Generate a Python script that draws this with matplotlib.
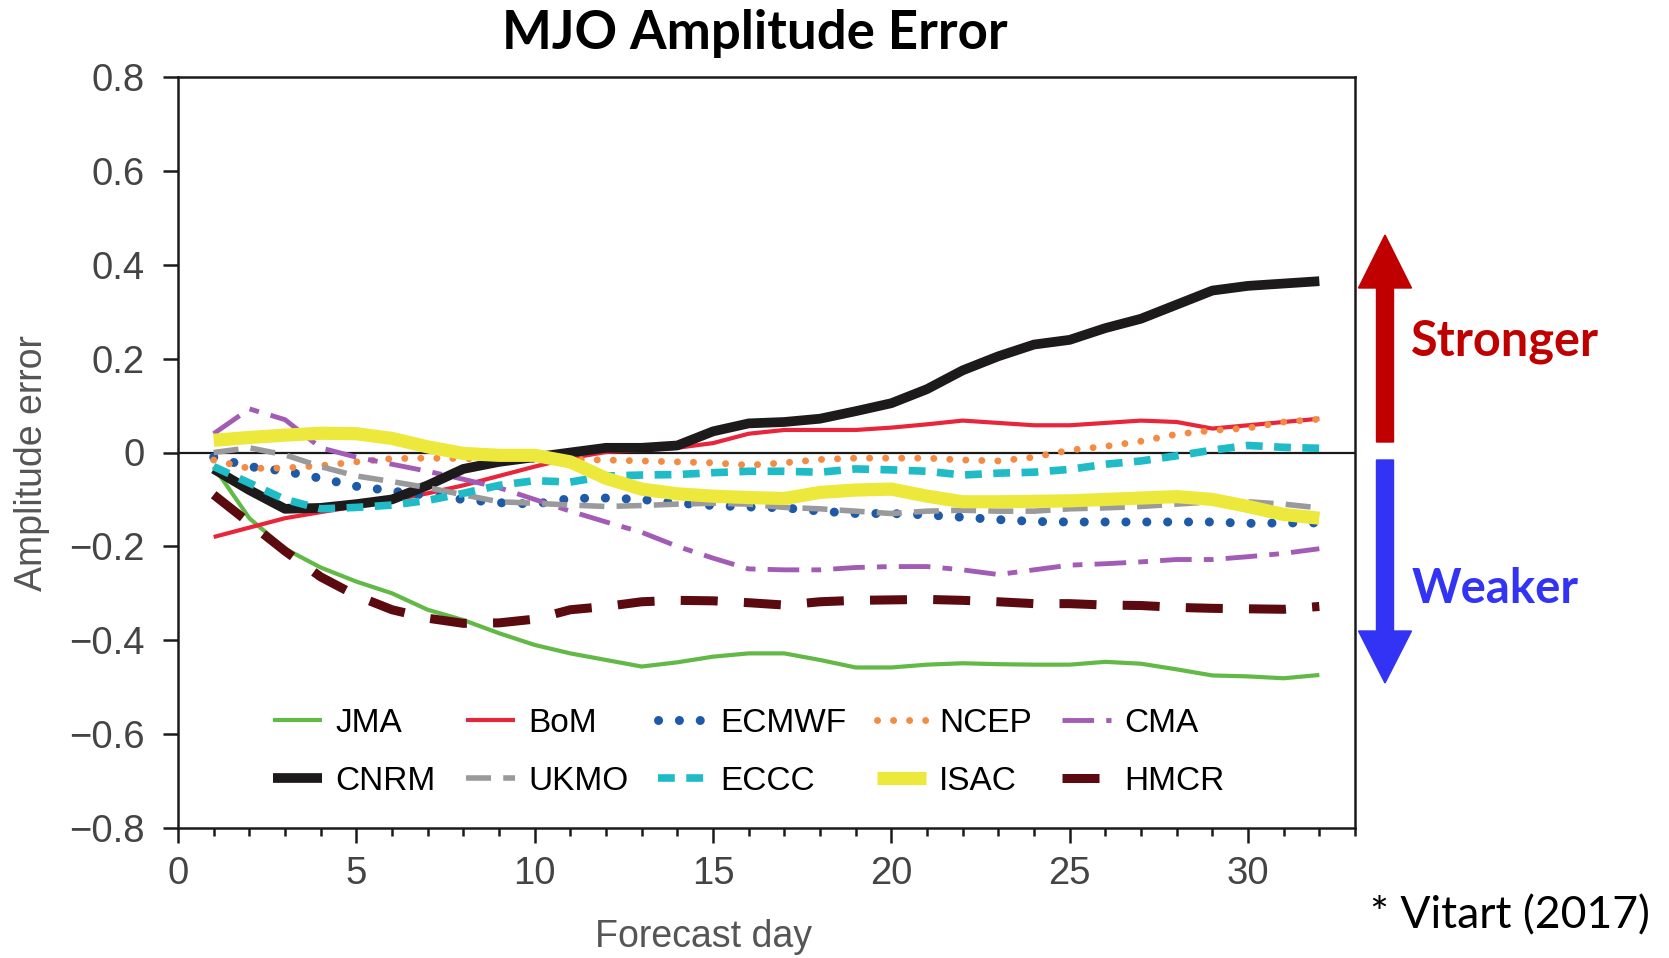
import matplotlib.pyplot as plt
from matplotlib.patches import FancyArrow
from matplotlib.transforms import Affine2D
from matplotlib.ticker import FuncFormatter, MultipleLocator

# DATA ##########################################
days = list(range(1, 33))

jma = [-0.03, -0.14, -0.205, -0.245, -0.275, -0.3, -0.335, -0.357, -0.385, -0.41, -0.428, -0.442, -0.456, -0.447, -0.435, -0.428,
       -0.428, -0.442, -0.458, -0.458, -0.452, -0.449, -0.451, -0.452, -0.452, -0.446, -0.45, -0.462, -0.475, -0.477, -0.481, -0.474]
bom = [-0.18, -0.16, -0.14, -0.127, -0.115, -0.102, -0.087, -0.07, -0.05, -0.03, -0.012, 0.001, 0.005, 0.01, 0.02, 0.04,
       0.048, 0.048, 0.048, 0.053, 0.06, 0.068, 0.063, 0.058, 0.058, 0.063, 0.068, 0.065, 0.051, 0.058, 0.065, 0.072]
ecmwf = [-0.01, -0.03, -0.04, -0.055, -0.072, -0.082, -0.092, -0.1, -0.107, -0.11, -0.098, -0.097, -0.1, -0.108, -0.113, -0.116,
         -0.118, -0.125, -0.13, -0.13, -0.133, -0.138, -0.143, -0.147, -0.148, -0.148, -0.148, -0.148, -0.148, -0.151, -0.15, -0.15]
ncep = [-0.016, -0.034, -0.033, -0.028, -0.02, -0.013, -0.012, -0.013, -0.015, -0.015, -0.015, -0.016, -0.018, -0.02, -0.022, -0.027,
        -0.022, -0.015, -0.012, -0.012, -0.012, -0.016, -0.018, -0.01, 0.005, 0.013, 0.024, 0.039, 0.047, 0.052, 0.065, 0.071]
cma = [0.04, 0.093, 0.07, 0.01, -0.01, -0.025, -0.04, -0.057, -0.075, -0.1, -0.125, -0.148, -0.17, -0.2, -0.225, -0.248,
       -0.25, -0.25, -0.245, -0.243, -0.243, -0.25, -0.26, -0.25, -0.24, -0.237, -0.233, -0.228, -0.228, -0.222, -0.215, -0.205]
cnrm = [-0.035, -0.08, -0.12, -0.118, -0.11, -0.1, -0.07, -0.035, -0.02, -0.01, 0.0, 0.01, 0.01, 0.015, 0.045, 0.062,
        0.065, 0.072, 0.088, 0.105, 0.135, 0.175, 0.205, 0.23, 0.24, 0.265, 0.285, 0.315, 0.345, 0.355, 0.36, 0.365]
ukmo = [0.0, 0.01, -0.005, -0.03, -0.05, -0.062, -0.075, -0.09, -0.105, -0.108, -0.112, -0.115, -0.113, -0.11, -0.108, -0.11,
        -0.117, -0.12, -0.125, -0.13, -0.125, -0.123, -0.125, -0.125, -0.12, -0.118, -0.115, -0.11, -0.105, -0.105, -0.11, -0.118]
eccc = [-0.03, -0.065, -0.1, -0.12, -0.117, -0.112, -0.102, -0.087, -0.07, -0.06, -0.063, -0.05, -0.048, -0.047, -0.043, -0.04,
        -0.04, -0.042, -0.035, -0.037, -0.04, -0.048, -0.044, -0.042, -0.036, -0.025, -0.018, -0.007, 0.005, 0.015, 0.011, 0.009]
isac = [0.026, 0.032, 0.037, 0.041, 0.04, 0.03, 0.012, -0.002, -0.006, -0.006, -0.02, -0.055, -0.078, -0.088, -0.093, -0.096,
        -0.098, -0.085, -0.08, -0.078, -0.093, -0.105, -0.105, -0.104, -0.103, -0.1, -0.097, -0.094, -0.1, -0.115, -0.132, -0.14]
hmcr = [-0.09, -0.15, -0.21, -0.265, -0.305, -0.335, -0.353, -0.364, -0.363, -0.355, -0.335, -0.328, -0.318, -0.315, -0.316, -0.32,
        -0.325, -0.318, -0.315, -0.314, -0.313, -0.315, -0.318, -0.322, -0.322, -0.325, -0.326, -0.33, -0.332, -0.333, -0.334, -0.328]

xticks = [0, 5, 10, 15, 20, 25, 30]
yticks = [-0.8, -0.6, -0.4, -0.2, 0, 0.2, 0.4, 0.6, 0.8]

# STYLE PER MODEL ###############################
styles = [
    ("JMA", jma, dict(color="#62b946", lw=3)),
    ("BoM", bom, dict(color="#e8253a", lw=3)),
    ("ECMWF", ecmwf, dict(color="#1f5aa8", lw=6.5, ls=(0, (0.01, 2.3)), dash_capstyle="round")),
    ("NCEP", ncep, dict(color="#f58a42", lw=5, ls=(0, (0.01, 2.3)), dash_capstyle="round")),
    ("CMA", cma, dict(color="#a25cb5", lw=3.5, ls=(0, (6.5, 2.5, 2, 2.5)))),
    ("CNRM", cnrm, dict(color="#1c1a1a", lw=7)),
    ("UKMO", ukmo, dict(color="#9a9a9c", lw=4, ls=(0, (4.5, 2.2)))),
    ("ECCC", eccc, dict(color="#1fbcc8", lw=5.5, ls=(0, (2.2, 1.5)))),
    ("ISAC", isac, dict(color="#ede83c", lw=9.5)),
    ("HMCR", hmcr, dict(color="#5b0a10", lw=6.5, ls=(0, (4.1, 2.9)))),
]

W, H = 1669, 958
fig = plt.figure(figsize=(W / 100, H / 100), dpi=100)
ax = fig.add_axes([178 / W, 1 - 828 / H, (1355 - 178) / W, (828 - 77) / H])

# pixel coords, origin top-left, like the reference image
px = Affine2D().scale(1 / W, -1 / H).translate(0, 1) + fig.transFigure

ax.axhline(0, color="#1a1a1a", lw=1.6, zorder=1.5)
lines = {}
for name, vals, kw in styles:
    (ln,) = ax.plot(days, vals, label=name, solid_capstyle="butt", **kw)
    lines[name] = ln

ax.set_xlim(0, 33)
ax.set_ylim(-0.8, 0.8)
ax.set_xticks(xticks)
ax.set_yticks(yticks)
ax.xaxis.set_minor_locator(MultipleLocator(1))
ax.yaxis.set_major_formatter(FuncFormatter(lambda v, p: f"{v:g}".replace("-", "\u2212")))
ax.tick_params(which="major", length=11, width=1.8, labelsize=27.5, labelcolor="#444444", color="#1a1a1a")
ax.tick_params(which="major", axis="x", pad=9)
ax.tick_params(which="major", axis="y", pad=13)
ax.tick_params(which="minor", axis="x", length=6, width=1.8, color="#1a1a1a")
ax.tick_params(which="minor", axis="y", length=0)
for lab in ax.get_xticklabels() + ax.get_yticklabels():
    lab.set_family(["Liberation Sans", "DejaVu Sans"])
for sp in ax.spines.values():
    sp.set_linewidth(1.8)
    sp.set_color("#1a1a1a")

ax.set_ylabel("Amplitude error", fontsize=27, color="#555555", family="Liberation Sans")
ax.yaxis.set_label_coords(-(178 - 50) / (1355 - 178), (828 - 463) / (828 - 77))
fig.text(703, 947, "Forecast day", transform=px, ha="center", va="baseline", fontsize=27,
         color="#555555", family="Liberation Sans")

# legend, filled row by row
order = ["JMA", "CNRM", "BoM", "UKMO", "ECMWF", "ECCC", "NCEP", "ISAC", "CMA", "HMCR"]
ax.legend([lines[n] for n in order], order, ncol=5, frameon=False, loc="upper left",
          bbox_to_anchor=((273 - 178) / (1355 - 178), (828 - 708) / (828 - 77)),
          borderpad=0, borderaxespad=0, handlelength=1.47, handletextpad=0.4,
          columnspacing=0.9, labelspacing=0.8,
          prop=dict(family=["Liberation Sans", "DejaVu Sans"], size=24))

# title and side annotations
fig.text(755 / W, 1 - 33 / H, "MJO Amplitude Error", ha="center", va="center",
         fontsize=38, fontweight="bold", family=["Lato", "DejaVu Sans"])

fig.add_artist(FancyArrow(1385, 442, 0, -207, width=17, head_width=53, head_length=53,
                          length_includes_head=True, color="#c00000", transform=px))
fig.add_artist(FancyArrow(1385, 460, 0, 223, width=17, head_width=53, head_length=52,
                          length_includes_head=True, color="#3333f5", transform=px))

fig.text(1411, 355, "Stronger", transform=px, ha="left", va="baseline", fontsize=35,
         fontweight="bold", color="#c00000", family=["Lato", "DejaVu Sans"])
fig.text(1412, 603, "Weaker", transform=px, ha="left", va="baseline", fontsize=34,
         fontweight="bold", color="#3333f5", family=["Lato", "DejaVu Sans"])
fig.text(1650, 928, "* Vitart (2017)", transform=px, ha="right", va="baseline", fontsize=32,
         color="black", family=["Lato", "DejaVu Sans"])

fig.savefig("out.png", dpi=100)
